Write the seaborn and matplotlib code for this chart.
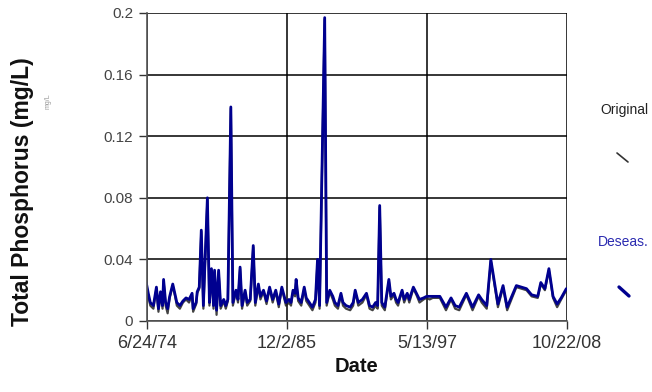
import pandas as pd
import seaborn as sns
import matplotlib.pyplot as plt
from matplotlib.lines import Line2D

# sample months
dates = [
    "1974-06", "1974-08", "1974-10", "1975-01", "1975-04", "1975-06", "1975-08", "1975-10",
    "1975-11", "1976-01", "1976-03", "1976-05", "1976-08", "1976-10", "1976-12", "1977-03",
    "1977-06", "1977-09", "1977-12", "1978-03", "1978-04", "1978-07", "1978-08", "1978-10",
    "1978-12", "1979-02", "1979-06", "1979-08", "1979-10", "1979-12", "1980-01", "1980-03",
    "1980-05", "1980-07", "1980-10", "1980-12", "1981-02", "1981-05", "1981-07", "1981-10",
    "1981-12", "1982-02", "1982-04", "1982-07", "1982-09", "1982-12", "1983-03", "1983-05",
    "1983-08", "1983-10", "1984-01", "1984-04", "1984-07", "1984-10", "1985-01", "1985-04",
    "1985-07", "1985-11", "1986-02", "1986-04", "1986-06", "1986-08", "1986-09", "1986-11",
    "1987-02", "1987-05", "1987-07", "1987-10", "1988-01", "1988-04", "1988-06", "1988-08",
    "1989-01", "1989-03", "1989-06", "1989-09", "1989-11", "1990-02", "1990-05", "1990-07",
    "1990-10", "1991-02", "1991-05", "1991-07", "1991-10", "1992-02", "1992-06", "1992-09",
    "1992-12", "1993-03", "1993-05", "1993-07", "1993-09", "1993-12", "1994-04", "1994-06",
    "1994-09", "1994-11", "1995-01", "1995-03", "1995-05", "1995-07", "1995-10", "1995-12",
    "1996-04", "1996-07", "1996-10", "1997-02", "1997-05", "1997-08", "1997-11", "1998-06",
    "1998-12", "1999-05", "1999-09", "2000-01", "2000-08", "2001-02", "2001-08", "2001-11",
    "2002-04", "2002-08", "2003-03", "2003-08", "2003-12", "2004-09", "2005-02", "2005-07",
    "2005-12", "2006-06", "2006-09", "2007-01", "2007-05", "2007-09", "2008-01", "2008-05",
    "2008-10",
]

deseas = [
    0.025, 0.018, 0.012, 0.010, 0.022, 0.008, 0.019, 0.010,
    0.027, 0.012, 0.008, 0.016, 0.024, 0.018, 0.012, 0.010,
    0.013, 0.015, 0.014, 0.018, 0.008, 0.012, 0.019, 0.022,
    0.059, 0.010, 0.080, 0.012, 0.034, 0.010, 0.033, 0.007,
    0.033, 0.010, 0.014, 0.010, 0.014, 0.139, 0.012, 0.020,
    0.014, 0.035, 0.010, 0.020, 0.012, 0.014, 0.049, 0.012,
    0.024, 0.016, 0.020, 0.013, 0.022, 0.014, 0.020, 0.011,
    0.022, 0.012, 0.014, 0.012, 0.020, 0.018, 0.027, 0.015,
    0.012, 0.022, 0.015, 0.012, 0.009, 0.014, 0.040, 0.010,
    0.197, 0.012, 0.020, 0.016, 0.012, 0.010, 0.018, 0.012,
    0.010, 0.009, 0.012, 0.020, 0.012, 0.014, 0.018, 0.010,
    0.009, 0.012, 0.010, 0.075, 0.012, 0.009, 0.027, 0.016,
    0.018, 0.014, 0.012, 0.016, 0.020, 0.014, 0.018, 0.014,
    0.022, 0.018, 0.014, 0.015, 0.016, 0.016, 0.016, 0.016,
    0.009, 0.015, 0.010, 0.009, 0.018, 0.009, 0.017, 0.014,
    0.010, 0.040, 0.011, 0.023, 0.009, 0.023, 0.022, 0.021,
    0.017, 0.016, 0.025, 0.021, 0.034, 0.016, 0.011, 0.015,
    0.021,
]

original = [
    0.024, 0.016, 0.010, 0.008, 0.021, 0.006, 0.018, 0.008,
    0.026, 0.010, 0.005, 0.015, 0.023, 0.017, 0.010, 0.008,
    0.012, 0.014, 0.012, 0.017, 0.006, 0.011, 0.018, 0.021,
    0.058, 0.008, 0.079, 0.010, 0.033, 0.008, 0.032, 0.004,
    0.032, 0.008, 0.013, 0.008, 0.013, 0.138, 0.010, 0.019,
    0.012, 0.034, 0.008, 0.019, 0.010, 0.013, 0.048, 0.010,
    0.023, 0.014, 0.019, 0.011, 0.021, 0.012, 0.019, 0.009,
    0.021, 0.010, 0.012, 0.010, 0.019, 0.016, 0.026, 0.013,
    0.010, 0.021, 0.013, 0.010, 0.007, 0.012, 0.039, 0.008,
    0.196, 0.010, 0.019, 0.014, 0.010, 0.008, 0.017, 0.010,
    0.008, 0.007, 0.010, 0.019, 0.010, 0.012, 0.017, 0.008,
    0.007, 0.010, 0.008, 0.074, 0.010, 0.007, 0.026, 0.014,
    0.017, 0.012, 0.010, 0.015, 0.019, 0.012, 0.017, 0.012,
    0.021, 0.017, 0.012, 0.014, 0.015, 0.014, 0.015, 0.015,
    0.007, 0.014, 0.008, 0.007, 0.017, 0.007, 0.016, 0.012,
    0.008, 0.039, 0.009, 0.022, 0.007, 0.022, 0.021, 0.020,
    0.016, 0.015, 0.024, 0.020, 0.033, 0.015, 0.009, 0.014,
    0.020,
]

tick_dates = ["1974-06-24", "1985-12-02", "1997-05-13", "2008-10-22"]
tick_labels = ["6/24/74", "12/2/85", "5/13/97", "10/22/08"]
y_ticks = [0, 0.04, 0.08, 0.12, 0.16, 0.2]
y_labels = ["0", "0.04", "0.08", "0.12", "0.16", "0.2"]

df = pd.DataFrame({"date": pd.to_datetime(dates), "Original": original, "Deseas.": deseas})

sns.set_theme(style="white")
plt.rcParams['font.family'] = ['Liberation Sans', 'DejaVu Sans']

fig = plt.figure(figsize=(6.52, 3.92), dpi=100)
ax = fig.add_axes([147 / 652, 1 - 321 / 392, 420 / 652, 308 / 392])

sns.lineplot(data=df, x="date", y="Original", ax=ax, color="#222222", linewidth=1.6, alpha=0.85)
sns.lineplot(data=df, x="date", y="Deseas.", ax=ax, color="#00008f", linewidth=2.0)

tick_pos = pd.to_datetime(tick_dates)
ax.set_xlim(tick_pos[0], tick_pos[-1])
ax.set_ylim(0, 0.2)
ax.set_xticks(tick_pos)
ax.set_xticklabels(tick_labels, fontsize=13, color="#333333")
ax.set_yticks(y_ticks)
ax.set_yticklabels(y_labels, fontsize=11, color="#444444")

ax.grid(True, color="black", linewidth=1.1)
ax.set_axisbelow(True)
for side in ["top", "right"]:
    ax.spines[side].set_visible(False)
for side in ["left", "bottom"]:
    ax.spines[side].set_color("#555555")
    ax.spines[side].set_linewidth(1.2)
ax.tick_params(axis="both", direction="out", length=6, width=1, color="#333333", left=True, bottom=True, pad=4)

ax.set_xlabel("Date", fontsize=14.5, fontweight="bold", color="#111111")
ax.set_ylabel("Total Phosphorus (mg/L)", fontsize=16.5, fontweight="bold", color="#111111")
ax.yaxis.set_label_coords(-0.268, 0.42)

# faint leftover text next to y label
fig.text(48 / 652, 1 - 101 / 392, "mg/L", rotation=90, fontsize=5, color="#999999", ha="center", va="center")

# legend on the right side
fig.text(624 / 652, 1 - 110 / 392, "Original", fontsize=10, color="#222222", ha="center", va="center")
fig.add_artist(Line2D([617 / 652, 628 / 652], [1 - 153 / 392, 1 - 162 / 392], color="#333333", linewidth=1.2))
fig.text(623 / 652, 1 - 242 / 392, "Deseas.", fontsize=10, color="#2a2ab0", ha="center", va="center")
fig.add_artist(Line2D([619 / 652, 629 / 652], [1 - 287 / 392, 1 - 296 / 392], color="#00008f", linewidth=2.4))

fig.savefig("out.png", dpi=100)
